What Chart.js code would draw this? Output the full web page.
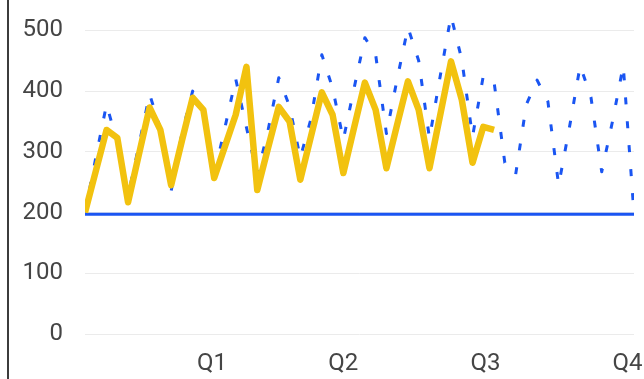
<!DOCTYPE html>
<html>
<head>
<meta charset="utf-8">
<script src="https://cdn.jsdelivr.net/npm/chart.js@4/dist/chart.umd.min.js"></script>
<style>
  html, body { margin: 0; padding: 0; background: #fff; }
  #wrap { position: relative; width: 644px; height: 379px; overflow: hidden; }
  #wrap canvas { position: absolute; left: 0; top: 0; }
  #frame { position: absolute; left: 7px; top: 0; width: 2px; height: 379px; background: #3c3c3c; }
</style>
</head>
<body>
<div id="wrap">
  <canvas id="chart" width="644" height="379"></canvas>
  <div id="frame"></div>
</div>
<script>
// Weekly values over the year (week 0 .. week 51)
const forecast = [
  200, 290, 378, 315, 228, 310, 395, 338, 235, 330,
  400, 365, 262, 340, 420, 340, 262, 335, 422, 375,
  290, 355, 460, 405, 320, 405, 488, 460, 330, 420,
  505, 450, 322, 425, 524, 452, 325, 425, 415, 282,
  262, 378, 418, 383, 245, 340, 442, 390, 267, 350,
  442, 198
];
const actual = [
  200, 268, 336, 323, 217, 295, 373, 336, 245, 318,
  389, 369, 257, 309, 361, 440, 237, 306, 374, 350,
  254, 326, 398, 361, 265, 340, 414, 369, 273, 345,
  416, 369, 273, 361, 449, 386, 282, 341, 336
];
const baselineValue = 197;
const weekIndex = forecast.map((_, i) => i);

// Axis labels
const quarterLabels = ['Q1', 'Q2', 'Q3', 'Q4'];
const quarterWeeks = [11.8, 24.0, 37.2, 50.4];
const yTickValues = [0, 100, 200, 300, 400, 500];

const BLUE = '#1a55f2';
const YELLOW = '#f2c20f';
const TEXT = '#454545';

Chart.defaults.font.family = 'Roboto, "Liberation Sans", sans-serif';

new Chart(document.getElementById('chart'), {
  type: 'line',
  data: {
    datasets: [
      {
        label: 'Actual',
        data: actual.map((v, i) => ({ x: weekIndex[i], y: v })),
        borderColor: YELLOW,
        borderWidth: 6.5,
        borderJoinStyle: 'round',
        pointRadius: 0,
        tension: 0
      },
      {
        label: 'Forecast',
        data: forecast.map((v, i) => ({ x: weekIndex[i], y: v })),
        borderColor: BLUE,
        borderWidth: 3,
        borderDash: [7, 17],
        borderJoinStyle: 'round',
        pointRadius: 0,
        tension: 0
      },
      {
        label: 'Baseline',
        data: weekIndex.map(w => ({ x: w, y: baselineValue })),
        borderColor: BLUE,
        borderWidth: 3,
        pointRadius: 0,
        tension: 0
      }
    ]
  },
  options: {
    responsive: false,
    animation: false,
    layout: { padding: { left: 0, right: 10, top: 0, bottom: 0 } },
    plugins: { legend: { display: false }, tooltip: { enabled: false } },
    scales: {
      x: {
        type: 'linear',
        min: 0,
        max: weekIndex[weekIndex.length - 1],
        grid: { display: false, drawTicks: false },
        border: { display: false },
        afterBuildTicks: s => { s.ticks = quarterWeeks.map(v => ({ value: v })); },
        ticks: {
          autoSkip: false,
          maxRotation: 0,
          padding: 16,
          color: TEXT,
          font: { size: 24 },
          callback: (v, i) => quarterLabels[i]
        },
        afterFit: s => { s.height = 45; s.paddingLeft = 0; s.paddingRight = 0; }
      },
      y: {
        min: 0,
        max: 550,
        afterBuildTicks: s => { s.ticks = yTickValues.map(v => ({ value: v })); },
        grid: { color: '#ebebeb', lineWidth: 1, drawTicks: false },
        border: { display: false },
        ticks: {
          padding: 22,
          color: TEXT,
          font: { size: 24 },
          callback: v => String(v)
        },
        afterFit: s => { s.width = 85; s.paddingTop = 0; s.paddingBottom = 0; }
      }
    }
  }
});
</script>
</body>
</html>
